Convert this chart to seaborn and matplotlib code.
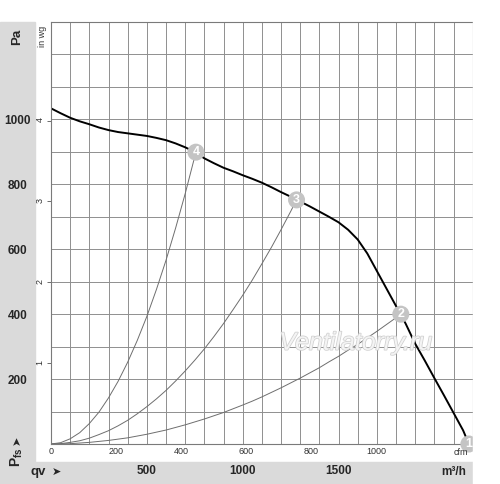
import numpy as np
import pandas as pd
import seaborn as sns
import matplotlib.pyplot as plt
from matplotlib.patches import Rectangle
import matplotlib.patheffects as pe

# fan curve (m3/h, Pa)
fan_q = [0, 50, 100, 150, 200, 250, 300, 350, 400, 450, 500, 550, 600, 650, 700, 750,
         800, 850, 900, 950, 1000, 1050, 1100, 1150, 1200, 1250, 1300, 1350, 1400,
         1450, 1500, 1550, 1600, 1650, 1700, 1750, 1800, 1850, 1900, 1950, 2000,
         2050, 2100, 2150, 2180]
fan_p = [1034, 1019, 1005, 994, 985, 975, 967, 961, 957, 953, 949, 943, 936, 926, 914,
         900, 880, 865, 851, 840, 828, 817, 805, 791, 776, 762, 747, 732, 716,
         700, 683, 660, 630, 587, 533, 479, 425, 371, 309, 257, 203,
         150, 96, 42, 0]

# system curves through operating points 4, 3, 2
sys4_q = [0, 50, 100, 150, 200, 250, 300, 350, 400, 450, 500, 550, 600, 650, 700, 756]
sys4_p = [0, 4, 16, 35, 63, 98, 142, 193, 252, 319, 393, 476, 566, 665, 771, 899]
sys3_q = [0, 50, 100, 150, 200, 250, 300, 350, 400, 450, 500, 550, 600, 650, 700, 750,
          800, 850, 900, 950, 1000, 1050, 1100, 1150, 1200, 1250, 1281]
sys3_p = [0, 1, 5, 10, 18, 29, 41, 56, 73, 93, 115, 139, 165, 194, 225, 258,
          293, 331, 371, 414, 458, 505, 555, 606, 660, 716, 752]
sys2_q = [0, 100, 200, 300, 400, 500, 600, 700, 800, 900, 1000, 1050, 1100, 1150,
          1200, 1250, 1300, 1350, 1400, 1450, 1500, 1550, 1600, 1650, 1700, 1750,
          1800, 1825]
sys2_p = [0, 1, 5, 11, 19, 30, 43, 59, 77, 97, 120, 132, 145, 159,
          173, 188, 203, 219, 235, 253, 270, 289, 307, 327, 347, 368,
          389, 400]

# operating points
pt_q = [2180, 1825, 1281, 756]
pt_p = [0, 400, 752, 899]
pt_labels = ['1', '2', '3', '4']

x_labels = {500: '500', 1000: '1000', 1500: '1500'}
y_labels = {200: '200', 400: '400', 600: '600', 800: '800', 1000: '1000'}
cfm_ticks = [0, 200, 400, 600, 800, 1000]
inwg_ticks = [1, 2, 3, 4]

sns.set_style('white')
plt.rcParams['font.family'] = ['Liberation Sans', 'DejaVu Sans']
plt.rcParams['mathtext.fontset'] = 'custom'
plt.rcParams['mathtext.rm'] = 'Liberation Sans'
plt.rcParams['mathtext.bf'] = 'Liberation Sans:bold'

W, H = 500, 484
fig = plt.figure(figsize=(W / 100, H / 100), dpi=100)
ax = fig.add_axes([51 / W, 40 / H, 421.7 / W, 422 / H])

# grey frame strips
grey = '#dadada'
fig.patches.append(Rectangle((0, 22 / H), 35 / W, 440 / H, transform=fig.transFigure,
                             color=grey, zorder=-1))
fig.patches.append(Rectangle((0, 0), 472.7 / W, 22 / H, transform=fig.transFigure,
                             color=grey, zorder=-1))
# white cut on the right edge (clips marker 1)
fig.patches.append(Rectangle((472.7 / W, 0), 1, 1, transform=fig.transFigure,
                             color='white', zorder=10))

ax.set_xlim(0, 2200)
ax.set_ylim(0, 1300)
ax.set_xticks(range(0, 2201, 100))
ax.set_xticklabels([x_labels.get(v, '') for v in range(0, 2201, 100)],
                   fontweight='bold', fontsize=8.5)
ax.set_yticks(range(0, 1301, 100))
ax.set_yticklabels([y_labels.get(v, '') for v in range(0, 1301, 100)],
                   fontweight='bold', fontsize=8.5)
for lab in ax.get_yticklabels():
    lab.set_ha('center')
ax.tick_params(axis='x', length=0, pad=15)
ax.tick_params(axis='y', length=0, pad=24)
ax.grid(True, color='#8f8f8f', linewidth=0.7)
for s in ax.spines.values():
    s.set_color('#7a7a7a')
    s.set_linewidth(0.8)

# curves
for q, p in [(sys4_q, sys4_p), (sys3_q, sys3_p), (sys2_q, sys2_p)]:
    sns.lineplot(x=q, y=p, ax=ax, color='#6e6e6e', linewidth=0.7)
sns.lineplot(x=fan_q, y=fan_p, ax=ax, color='black', linewidth=1.4)

sns.scatterplot(x=pt_q, y=pt_p, ax=ax, s=150, color='#c4c4c4', edgecolor='none',
                zorder=5, clip_on=False)
for q, p, lab in zip(pt_q, pt_p, pt_labels):
    ax.text(q, p, lab, ha='center', va='center', color='white', fontweight='bold',
            fontsize=9, zorder=6, clip_on=False)

# watermark
ax.text(1590, 312, 'Ventilatorry.ru', ha='center', va='center', fontsize=18,
        style='italic', color='#f4f4f4', zorder=4,
        path_effects=[pe.withStroke(linewidth=1.1, foreground='#cfcfcf')])

# cfm secondary axis
sec_x = ax.secondary_xaxis('bottom', functions=(lambda q: q / 1.699, lambda c: c * 1.699))
sec_x.set_xticks(cfm_ticks)
sec_x.tick_params(length=0, pad=2.5, labelsize=6.5, labelcolor='#333333')
sec_x.spines['bottom'].set_visible(False)

# in wg secondary axis
sec_y = ax.secondary_yaxis('left', functions=(lambda p: p / 249.09, lambda w: w * 249.09))
sec_y.set_yticks(inwg_ticks)
sec_y.tick_params(length=3, width=0.6, pad=1.5, labelsize=6.5, labelcolor='#333333',
                  color='#555555', labelrotation=90)
sec_y.spines['left'].set_visible(False)

ax.text(-0.021, 0.99, 'in wg', rotation=90, transform=ax.transAxes, ha='center',
        va='top', fontsize=6.5, color='#333333')

# labels in the grey frame
fig.text(17 / W, 1 - 37 / H, 'Pa', rotation=90, ha='center', va='center',
         fontweight='bold', fontsize=9.5)
fig.text(17 / W, 1 - 457 / H, r'$\mathbf{P_{fs}}$', rotation=90, ha='center',
         va='center', fontsize=10)
fig.text(17 / W, 1 - 440 / H, '➤', rotation=90, ha='center', va='center',
         fontsize=8, family='DejaVu Sans')
fig.text(38 / W, 1 - 472 / H, 'qv', ha='center', va='center', fontweight='bold',
         fontsize=9.5)
fig.text(56 / W, 1 - 472 / H, '➤', ha='center', va='center', fontsize=8,
         family='DejaVu Sans')
fig.text(454 / W, 1 - 472 / H, 'm³/h', ha='center', va='center', fontweight='bold',
         fontsize=8.5)
fig.text(461 / W, 1 - 452.7 / H, 'cfm', ha='center', va='center', fontsize=6.5,
         color='#333333')

fig.savefig('out.png', dpi=100)
